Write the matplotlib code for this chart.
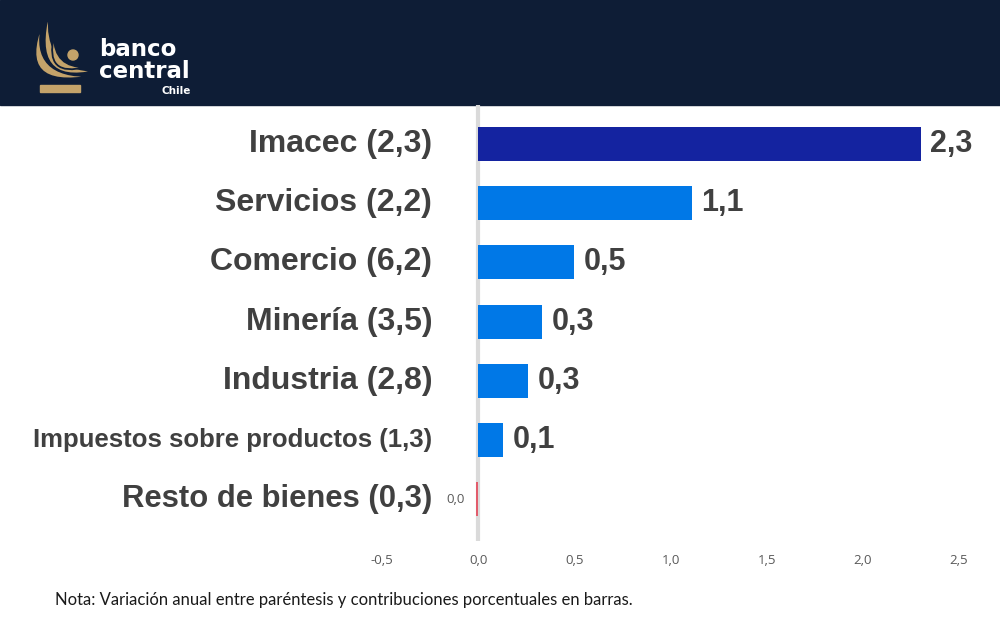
import numpy as np
import matplotlib
matplotlib.use('Agg')
import matplotlib.pyplot as plt
from matplotlib.path import Path
from matplotlib.patches import PathPatch, Rectangle, Circle

# Datos
sectores = ['Imacec', 'Servicios', 'Comercio', 'Minería', 'Industria',
            'Impuestos sobre productos', 'Resto de bienes']
variacion = [2.3, 2.2, 6.2, 3.5, 2.8, 1.3, 0.3]
contribucion = [2.30, 1.11, 0.50, 0.33, 0.26, 0.13, -0.01]
ticks_x = [-0.5, 0.0, 0.5, 1.0, 1.5, 2.0, 2.5]


def coma(v):
    s = f"{v:.1f}"
    if s == '-0.0':
        s = '0.0'
    return s.replace('.', ',')


W, H = 1000, 631
navy = '#0e1d36'
fig = plt.figure(figsize=(10, 6.31), dpi=100)

# fondo / encabezado en pixeles
bg = fig.add_axes([0, 0, 1, 1])
bg.set_xlim(0, W)
bg.set_ylim(H, 0)
bg.axis('off')
bg.add_patch(Rectangle((0, 0), W, 105, color=navy, zorder=1))

gold = '#c4a36a'
def crescent(p0, c_out, c_in, p2, z):
    verts = [p0, c_out, p2, c_in, p0, p0]
    codes = [Path.MOVETO, Path.CURVE3, Path.CURVE3, Path.CURVE3, Path.CURVE3, Path.CLOSEPOLY]
    bg.add_patch(PathPatch(Path(verts, codes), facecolor=gold, edgecolor=navy,
                           lw=1.3, zorder=z))

# logo
crescent((42, 24), (16, 90), (30, 78), (92, 76), 2)
crescent((49, 12), (30, 86), (44, 70), (95, 71), 3)
crescent((54, 36), (44, 78), (54, 68), (86, 67), 4)
bg.add_patch(Circle((73, 55), 5, color=gold, zorder=5))
bg.add_patch(Rectangle((40, 85), 40, 7, color=gold, zorder=5))
bg.text(99, 56, 'banco', color='white', fontsize=16.5, fontweight='bold',
        family='DejaVu Sans', va='baseline', ha='left', zorder=5)
bg.text(99, 78, 'central', color='white', fontsize=16.5, fontweight='bold',
        family='DejaVu Sans', va='baseline', ha='left', zorder=5)
bg.text(161, 94, 'Chile', color='white', fontsize=7.5, fontweight='bold',
        family='DejaVu Sans', va='baseline', ha='left', zorder=5)

bg.text(55, 600, 'Nota: Variación anual entre paréntesis y contribuciones porcentuales en barras.',
        fontsize=12, family='Lato', color='#1a1a1a', va='center', ha='left')

# grafico principal
ax = fig.add_axes([382 / W, (H - 541) / H, (959 - 382) / W, 436 / H])
ax.patch.set_alpha(0)
y = np.arange(len(sectores))
colores = ['#1423a0'] + ['#0078e7'] * 5 + ['#e25c6c']
ax.barh(y, contribucion, height=0.575, color=colores, zorder=3)
ax.axvline(0, color='#dadada', lw=3, zorder=2)

ax.set_xlim(-0.5, 2.5)
ax.set_ylim(6.709, -0.659)
ax.set_xticks(ticks_x)
ax.set_xticklabels([coma(t) for t in ticks_x], fontsize=9.5, color='#595959', family='Open Sans')
ax.tick_params(axis='x', length=0, pad=9)
ax.set_yticks([])
for s in ax.spines.values():
    s.set_visible(False)

for i, (n, v, c) in enumerate(zip(sectores, variacion, contribucion)):
    size = 18.5 if i == 5 else (22.3 if i == 6 else 23)
    ax.annotate(f"{n} ({coma(v)})", xy=(0, i), xytext=(-33, 0), textcoords='offset points',
                ha='right', va='center', fontsize=size, fontweight='bold',
                color='#404040', family='Liberation Sans')
    if c >= 0.05:
        ax.annotate(coma(c), xy=(c, i), xytext=(7, 0), textcoords='offset points',
                    ha='left', va='center', fontsize=22, fontweight='bold',
                    color='#404040', family='Liberation Sans')
    else:
        ax.annotate(coma(c), xy=(min(c, 0), i), xytext=(-8, 0), textcoords='offset points',
                    ha='right', va='center', fontsize=9.5, color='#595959',
                    family='Open Sans')

fig.savefig('out.png', dpi=100)
